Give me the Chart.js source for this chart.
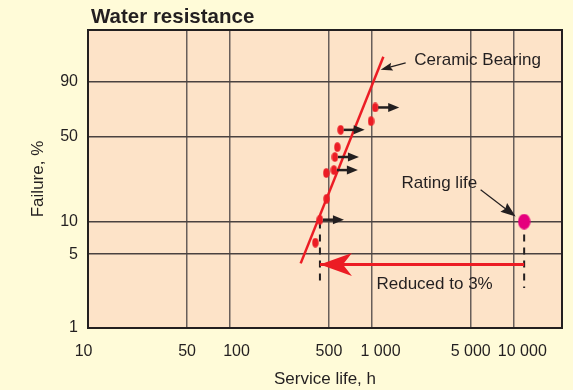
<!DOCTYPE html>
<html>
<head>
<meta charset="utf-8">
<script src="https://cdn.jsdelivr.net/npm/chart.js@4.4.1/dist/chart.umd.min.js"></script>
<style>
  html, body { margin: 0; padding: 0; background: #fffbd8; }
  #wrap { width: 573px; height: 390px; position: relative; }
</style>
</head>
<body>
<div id="wrap"><canvas id="weibull"></canvas></div>
<script>
// --- axis ticks (padding spaces nudge the grouped labels off their gridline) ---
const xTicks = [10, 50, 100, 500, 1000, 5000, 10000];
const xTickLabels = ['10  ', '50', '   100', '500', '    1 000', '5 000', '    10 000'];
const yTicks = [1, 5, 10, 50, 90];
const yTickLabels = ['1', '5', '10', '50', '90'];

// --- test bearings: service life (h) and failure (%) ---
const lifeHours = [1060, 990, 605, 573, 551, 542, 479, 482, 432, 401];
const failurePct = [73, 62, 55, 42, 35.5, 28, 26.5, 16, 10.4, 6.4];
// still running when the test stopped (drawn with an arrow)
const suspended = [true, false, true, false, true, true, false, false, true, false];

// fitted Weibull line
const fitHours = [316, 1210];
const fitPct = [4.1, 98.2];

// catalogue rating life
const ratingHours = [11900];
const ratingPct = [10];

// reduction from rating life down to the tested B10 life
const reducedHours = [11900, 432];
const reducedPct = [4, 4];

// dashed drop lines under the B10 point and the rating life
const dropHours = [432, 11900];
const dropTopPct = [10, 10];
const dropBottomPct = [2.7, 2.4];

// callouts, placed in data coordinates
const notes = [
  { text: 'Ceramic Bearing', x: 2000, y: 97.5, align: 'left', from: [1737, 97], to: [1157, 95.1], head: [12, 4] },
  { text: 'Rating life', x: 3000, y: 21.8, align: 'center', from: [5870, 19.2], to: [10360, 11.1], head: [15, 5.5] },
  { text: 'Reduced to 3%', x: 2780, y: 2.6, align: 'center' }
];

const RED = '#ec1c24';
const MAGENTA = '#e5007d';
const INK = '#231f20';
const FONT = "'Liberation Sans', Arial, Helvetica, sans-serif";

// Weibull probability axis: ln(-ln(1-F))
const weib = p => Math.log(-Math.log(1 - p / 100));

function ellipseDot(w, h, color) {
  const c = document.createElement('canvas');
  c.width = w; c.height = h;
  const g = c.getContext('2d');
  g.fillStyle = color;
  g.beginPath();
  g.ellipse(w / 2, h / 2, w / 2 - 0.3, h / 2 - 0.3, 0, 0, Math.PI * 2);
  g.fill();
  return c;
}

function arrowHead(ctx, tx, ty, angle, len, half, notch) {
  ctx.save();
  ctx.translate(tx, ty);
  ctx.rotate(angle);
  ctx.beginPath();
  ctx.moveTo(0, 0);
  ctx.lineTo(-len, -half);
  ctx.lineTo(-len + notch, 0);
  ctx.lineTo(-len, half);
  ctx.closePath();
  ctx.fill();
  ctx.restore();
}

const pts = (xs, ys) => xs.map((x, i) => ({ x: x, y: weib(ys[i]) }));

const decorations = {
  id: 'decorations',
  beforeDraw(chart) {
    const { ctx, chartArea: a } = chart;
    ctx.save();
    ctx.fillStyle = '#fffbd8';
    ctx.fillRect(0, 0, chart.width, chart.height);
    ctx.fillStyle = '#fde3c8';
    ctx.fillRect(a.left, a.top, a.right - a.left, a.bottom - a.top);
    ctx.restore();
  },
  afterDatasetsDraw(chart) {
    const { ctx, chartArea: a, scales } = chart;
    const px = v => scales.x.getPixelForValue(v);
    const py = p => scales.y.getPixelForValue(weib(p));
    ctx.save();

    // arrows on suspended tests
    ctx.fillStyle = INK;
    ctx.strokeStyle = INK;
    ctx.lineWidth = 2.5;
    lifeHours.forEach((h, i) => {
      if (!suspended[i]) return;
      const x = px(h), y = py(failurePct[i]);
      ctx.beginPath();
      ctx.moveTo(x + 3, y);
      ctx.lineTo(x + 14, y);
      ctx.stroke();
      arrowHead(ctx, x + 24, y, 0, 11, 4.5, 0);
    });

    // red reduction arrowhead
    ctx.fillStyle = RED;
    const last = reducedHours.length - 1;
    arrowHead(ctx, px(reducedHours[last]), py(reducedPct[last]), Math.PI, 32, 11.5, 9);

    // callouts
    ctx.fillStyle = INK;
    ctx.strokeStyle = INK;
    ctx.lineWidth = 1.2;
    ctx.font = '17px ' + FONT;
    ctx.textBaseline = 'middle';
    notes.forEach(n => {
      ctx.textAlign = n.align;
      ctx.fillText(n.text, px(n.x), py(n.y));
      if (n.from) {
        const x0 = px(n.from[0]), y0 = py(n.from[1]);
        const x1 = px(n.to[0]), y1 = py(n.to[1]);
        const ang = Math.atan2(y1 - y0, x1 - x0);
        ctx.beginPath();
        ctx.moveTo(x0, y0);
        ctx.lineTo(x1 - Math.cos(ang) * n.head[0] * 0.8, y1 - Math.sin(ang) * n.head[0] * 0.8);
        ctx.stroke();
        arrowHead(ctx, x1, y1, ang, n.head[0], n.head[1], 2);
      }
    });

    // plot frame
    ctx.strokeStyle = INK;
    ctx.lineWidth = 2;
    ctx.strokeRect(a.left, a.top, a.right - a.left, a.bottom - a.top);

    // heading
    ctx.font = 'bold 20.5px ' + FONT;
    ctx.textAlign = 'left';
    ctx.fillText('Water resistance', a.left + 3, a.top - 13);
    ctx.restore();
  }
};

new Chart(document.getElementById('weibull'), {
  type: 'scatter',
  data: {
    datasets: [
      {
        label: 'Tests',
        data: pts(lifeHours, failurePct),
        pointStyle: ellipseDot(7, 10, RED),
        pointRadius: 5
      },
      {
        label: 'Rating life',
        data: pts(ratingHours, ratingPct),
        pointStyle: ellipseDot(13, 16, MAGENTA),
        pointRadius: 7
      },
      {
        label: 'Ceramic Bearing',
        data: pts(fitHours, fitPct),
        showLine: true,
        borderColor: RED,
        borderWidth: 2.5,
        pointRadius: 0
      },
      {
        label: 'Reduced',
        data: pts(reducedHours, reducedPct),
        showLine: true,
        borderColor: RED,
        borderWidth: 3,
        pointRadius: 0
      },
      ...dropHours.map((h, i) => ({
        label: 'drop' + i,
        data: pts([h, h], [dropTopPct[i], dropBottomPct[i]]),
        showLine: true,
        borderColor: INK,
        borderWidth: 2,
        borderDash: [7, 6],
        pointRadius: 0
      }))
    ]
  },
  options: {
    responsive: true,
    maintainAspectRatio: false,
    animation: false,
    layout: { padding: { top: 30, right: 11, left: 0, bottom: 0 } },
    plugins: {
      legend: { display: false },
      tooltip: { enabled: false }
    },
    scales: {
      x: {
        type: 'logarithmic',
        min: 10,
        max: 22000,
        afterBuildTicks: s => { s.ticks = xTicks.map(v => ({ value: v })); },
        afterFit: s => { s.height = 62; },
        ticks: {
          autoSkip: false,
          maxRotation: 0,
          padding: 14,
          color: INK,
          font: { family: FONT, size: 16 },
          callback: (v, i) => xTickLabels[i]
        },
        grid: { color: '#685e5a', lineWidth: 1.5, drawTicks: false },
        border: { display: false },
        title: {
          display: true,
          text: 'Service life, h',
          color: INK,
          font: { family: FONT, size: 17 },
          padding: { bottom: 0 }
        }
      },
      y: {
        type: 'linear',
        min: weib(1),
        max: 1.98,
        afterBuildTicks: s => { s.ticks = yTicks.map(p => ({ value: weib(p) })); },
        afterFit: s => { s.width = 88; },
        ticks: {
          padding: 10,
          color: INK,
          font: { family: FONT, size: 16 },
          callback: (v, i) => yTickLabels[i]
        },
        grid: { color: '#4a4240', lineWidth: 1.5, drawTicks: false },
        border: { display: false },
        title: {
          display: true,
          text: 'Failure, %',
          color: INK,
          font: { family: FONT, size: 17 },
          padding: { top: 28 }
        }
      }
    }
  },
  plugins: [decorations]
});
</script>
</body>
</html>
